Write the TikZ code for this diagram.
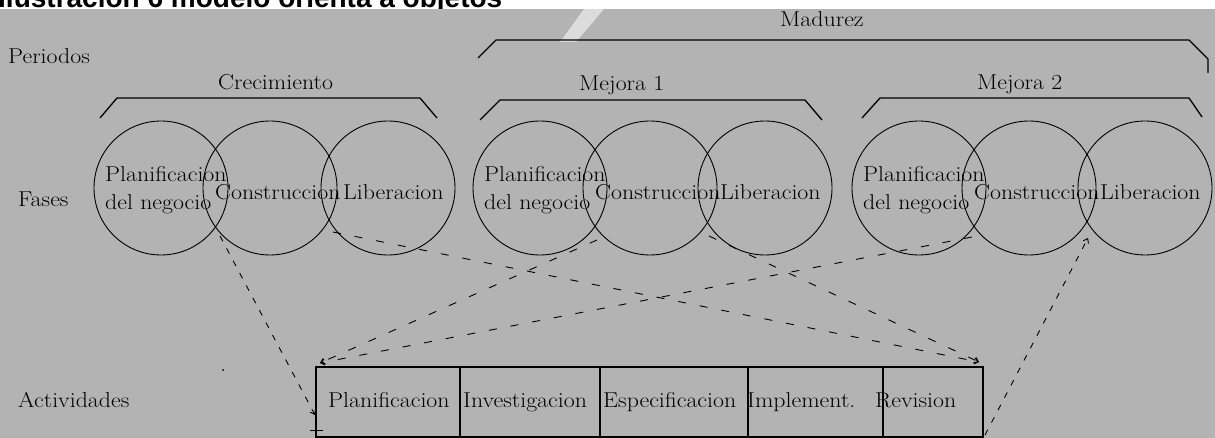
\documentclass[tikz,border=0pt]{standalone}
\usepackage{fontspec}
\usepackage{graphicx}
\setsansfont{Liberation Sans}
\usetikzlibrary{arrows.meta}
\definecolor{bg}{RGB}{179,179,179}
\newcommand\widetxt[1]{\scalebox{1.11}[1]{#1}}
\begin{document}
\begin{tikzpicture}[x=1pt,y=-1pt,
  lbl/.style={font=\fontsize{21.5}{26}\selectfont, inner sep=0pt, anchor=base west},
  phase/.style={draw, circle, minimum size=134pt, inner sep=0pt, line width=0.9pt},
  brk/.style={line width=1.3pt},
  cell/.style={draw, rectangle, minimum height=70pt, inner sep=0pt, outer sep=0pt, line width=1.2pt, anchor=north west},
  tip/.style={-{Straight Barb[length=4pt,width=6pt]}},
  dlong/.style={dash pattern=on 8pt off 14pt, line width=0.9pt},
  dshort/.style={dash pattern=on 6pt off 8pt, line width=0.9pt}]
\useasboundingbox (0,0) rectangle (1215,438);
% title (cut off by the grey panel)
\node[font=\sffamily\bfseries\fontsize{28}{34}\selectfont, inner sep=0pt, anchor=base west] (title) at (-2,8) {Ilustración 6 modelo orienta a objetos};
\fill[bg] (0,9) rectangle (1215,438);
% faint watermark stroke
\fill[white, opacity=0.55] (584,9) -- (604,9) -- (576,42) -- (560,42) -- cycle;

% row labels
\node[lbl] (lper) at (8,64) {\widetxt{Periodos}};
\node[lbl] (lfas) at (18,207) {\widetxt{Fases}};
\node[lbl] (lact) at (18,407) {\widetxt{Actividades}};

% periods
\node[lbl] (tmad) at (780,27) {\widetxt{Madurez}};
\draw[brk] (478,58) -- (496,40) -- (1189,40) -- (1208,59) -- (1208,73);
\node[lbl] (tcre) at (218,90) {\widetxt{Crecimiento}};
\draw[brk] (100,118) -- (117,98) -- (420,98) -- (437,118);
\node[lbl] (tme1) at (579,91) {\widetxt{Mejora 1}};
\draw[brk] (480,120) -- (500,100) -- (805,100) -- (822,120);
\node[lbl] (tme2) at (977,90) {\widetxt{Mejora 2}};
\draw[brk] (862,118) -- (880,98) -- (1189,98) -- (1202,117);

% phases
\foreach \g/\a/\b/\c in {1/161/270/388, 2/540/650/765, 3/919/1029/1145}{
  \node[phase] (p\g) at (\a,188) {};
  \node[phase] (k\g) at (\b,188) {};
  \node[phase] (l\g) at (\c,188) {};
  \node[lbl] (pt\g) at (\a-56,182) {\widetxt{Planificacion}};
  \node[lbl] (pd\g) at (\a-56,210) {\widetxt{del negocio}};
  \node[lbl] (kt\g) at (\b-55,200) {\widetxt{Construccion}};
  \node[lbl] (lt\g) at (\c-45,200) {\widetxt{Liberacion}};
}

% activities
\node[cell, minimum width=144pt] (a1) at (316,367) {};
\node[cell, minimum width=140pt] (a2) at (a1.north east) {};
\node[cell, minimum width=148pt] (a3) at (a2.north east) {};
\node[cell, minimum width=135pt] (a4) at (a3.north east) {};
\node[cell, minimum width=100pt] (a5) at (a4.north east) {};
\node[lbl] (at1) at (328,407) {\widetxt{Planificacion}};
\node[lbl] (at2) at (463,407) {\widetxt{Investigacion}};
\node[lbl] (at3) at (603,407) {\widetxt{Especificacion}};
\node[lbl] (at4) at (747,407) {\widetxt{Implement.}};
\node[lbl] (at5) at (875,407) {\widetxt{Revision}};

% connector end points
\coordinate (i1) at (220,236);
\coordinate (i2) at (333,232);
\coordinate (i3) at (597,240);
\coordinate (i4) at (709,236);
\coordinate (i5) at (972,237);
\coordinate (i6) at (1088,238);
\coordinate (e1) at (315,415);
\coordinate (e2) at (979,362);
\coordinate (e4) at (320,363);
\coordinate (e6) at (985,435);

\draw[dshort,tip] (i1) -- (e1);
\draw[dlong,tip] (i2) -- (e2);
\draw[dlong,tip] (i4) -- (e2);
\draw[dlong,tip] (i3) -- (e4);
\draw[dlong,tip] (i5) -- (e4);
\draw[dshort,tip] (e6) -- (i6);

% small marks
\fill (223,370) circle (1pt);
\draw[line width=1pt] (310,430) -- (323,430);
\end{tikzpicture}
\end{document}
